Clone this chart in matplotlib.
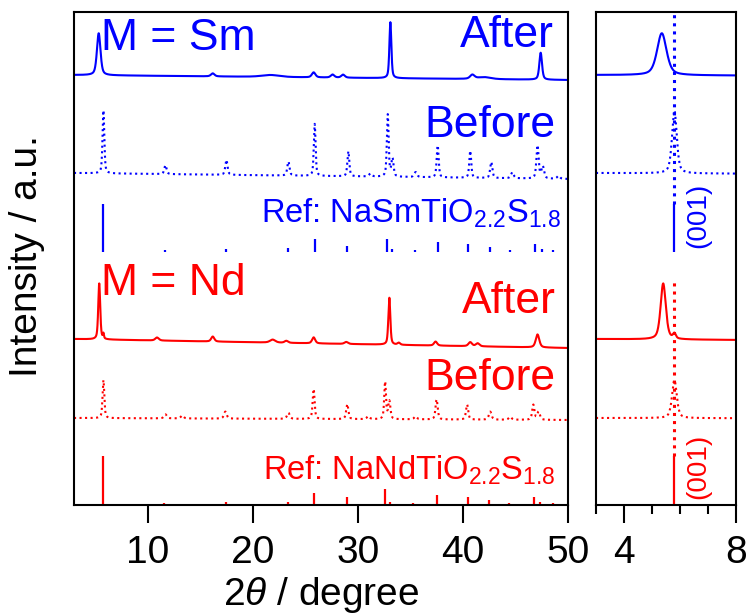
import numpy as np
import matplotlib
matplotlib.use("Agg")
import matplotlib.pyplot as plt
from matplotlib.ticker import MultipleLocator

plt.rcParams['font.family'] = ['Liberation Sans', 'DejaVu Sans']
plt.rcParams['mathtext.fontset'] = 'custom'
plt.rcParams['mathtext.rm'] = 'Liberation Sans'
plt.rcParams['mathtext.it'] = 'Liberation Sans:italic'

BLUE = '#0000ff'
RED = '#ff0000'

# peak lists: (2theta, intensity, fwhm)
sm_after = [(5.35, 42, 0.40), (16.2, 3, 0.4), (21.7, 2, 2.0), (25.8, 5, 0.4),
            (27.6, 3, 0.4), (28.6, 3, 0.4), (33.1, 56, 0.22), (40.9, 4, 0.5),
            (42.0, 2, 1.5), (47.4, 27, 0.30)]
sm_before = [(5.8, 63, 0.2), (11.7, 9, 0.25), (17.5, 15, 0.25), (23.4, 14, 0.25),
             (25.9, 52, 0.2), (29.1, 25, 0.22), (31.2, 3, 0.3), (32.85, 62, 0.2),
             (33.3, 18, 0.25), (35.5, 5, 0.3), (37.6, 32, 0.22), (40.7, 27, 0.22),
             (42.7, 16, 0.25), (44.7, 6, 0.3), (47.1, 33, 0.25), (47.6, 12, 0.3),
             (49.1, 3, 0.3)]
sm_ref_pos = [5.8, 11.7, 17.5, 23.4, 25.9, 29.0, 32.8, 33.3, 35.4, 37.6,
              40.5, 42.6, 44.5, 46.9, 47.5, 48.6]
sm_ref_int = [48, 2, 3, 4, 13, 6, 13, 3, 2, 10, 8, 5, 2, 8, 3, 2]

nd_after = [(5.4, 56, 0.22), (5.8, 5, 0.12), (10.9, 3, 0.4), (16.2, 5, 0.35),
            (21.9, 3, 0.6), (23.2, 2, 0.4), (25.8, 6, 0.35), (28.9, 2, 0.4),
            (33.0, 47, 0.22), (33.9, 2, 0.3), (37.4, 4, 0.35), (40.7, 4, 0.4),
            (41.4, 3, 0.4), (47.1, 13, 0.4)]
nd_before = [(5.8, 38, 0.2), (11.7, 4, 0.3), (13.3, 3, 0.3), (17.4, 7, 0.3),
             (23.4, 6, 0.3), (25.8, 30, 0.22), (29.0, 15, 0.25), (31.0, 3, 0.3),
             (32.6, 37, 0.2), (33.0, 18, 0.25), (35.5, 3, 0.3), (37.5, 20, 0.25),
             (40.4, 15, 0.25), (42.6, 8, 0.3), (44.5, 3, 0.3), (46.7, 15, 0.25),
             (47.2, 8, 0.3)]
nd_ref_pos = [5.8, 11.6, 17.5, 23.4, 25.8, 29.0, 32.6, 33.1, 35.3, 37.5,
              40.5, 42.5, 44.4, 46.8, 47.3, 48.6]
nd_ref_int = [49, 2, 3, 3, 12, 8, 16, 3, 2, 10, 8, 5, 2, 8, 3, 2]

x = np.arange(3.0, 50.0001, 0.005)


def pattern(peaks, bg_left, bg_right):
    # pseudo-Voigt peaks on a straight background
    y = np.linspace(bg_left, bg_right, x.size)
    for pos, h, w in peaks:
        d = (x - pos) / w
        y = y + h * (0.5 * np.exp(-4 * np.log(2) * d**2) + 0.5 / (1 + 4 * d**2))
    return y


curves = [
    (pattern(sm_after, 430, 425), BLUE, '-'),
    (pattern(sm_before, 332, 326), BLUE, ':'),
    (pattern(nd_after, 166, 157), RED, '-'),
    (pattern(nd_before, 87, 85), RED, ':'),
]
sm_base, nd_base = 253, 0

fig = plt.figure(figsize=(7.47, 6.13), dpi=100)
ax = fig.add_axes([74 / 747, 108 / 613, 494 / 747, 493 / 613])
ax2 = fig.add_axes([596 / 747, 108 / 613, 140 / 747, 493 / 613])

for a in (ax, ax2):
    for y, c, ls in curves:
        a.plot(x, y, color=c, ls=ls, lw=1.5)
    a.vlines(sm_ref_pos, sm_base, sm_base + np.array(sm_ref_int), color=BLUE, lw=1.6)
    a.vlines(nd_ref_pos, nd_base, nd_base + np.array(nd_ref_int), color=RED, lw=1.6)
    a.set_ylim(0, 493)
    a.set_yticks([])
    for s in a.spines.values():
        s.set_linewidth(1.5)
    a.tick_params(axis='x', which='major', direction='out', length=13, width=1.5,
                  labelsize=28, pad=8.5)
    a.tick_params(axis='x', which='minor', direction='out', length=6.5, width=1.5)

ax.set_xlim(3, 50)
ax.xaxis.set_major_locator(MultipleLocator(10))
ax2.set_xlim(3, 8)
ax2.xaxis.set_major_locator(MultipleLocator(4))
ax2.xaxis.set_minor_locator(MultipleLocator(1))

# (001) guide lines in the zoomed panel
p001 = sm_ref_pos[0]
ax2.plot([p001, p001], [sm_base + sm_ref_int[0], 493], color=BLUE, ls=':', lw=2.2)
ax2.plot([p001, p001], [nd_base + nd_ref_int[0], 227], color=RED, ls=':', lw=2.2)
ax2.text(6.65, 290, '(001)', color=BLUE, fontsize=20, rotation=90, ha='center', va='center')
ax2.text(6.65, 39, '(001)', color=RED, fontsize=20, rotation=90, ha='center', va='center')

big = 32
ref_size = 23.5
ax.text(5.6, 455, 'M = Sm', color=BLUE, fontsize=big, va='baseline')
ax.text(48.6, 458, 'After', color=BLUE, fontsize=big, ha='right', va='baseline')
ax.text(48.8, 368, 'Before', color=BLUE, fontsize=big, ha='right', va='baseline')
ax.text(49.3, 282, r'Ref: NaSmTiO$_\mathregular{2.2}$S$_\mathregular{1.8}$', color=BLUE,
        fontsize=ref_size, ha='right', va='baseline')
ax.text(5.6, 210, 'M = Nd', color=RED, fontsize=big, va='baseline')
ax.text(48.8, 192, 'After', color=RED, fontsize=big, ha='right', va='baseline')
ax.text(48.8, 115, 'Before', color=RED, fontsize=big, ha='right', va='baseline')
ax.text(48.8, 25, r'Ref: NaNdTiO$_\mathregular{2.2}$S$_\mathregular{1.8}$', color=RED,
        fontsize=ref_size, ha='right', va='baseline')

fig.text(321 / 747, 1 - 605 / 613, r'2$\it{\theta}$ / degree', fontsize=28,
         ha='center', va='baseline')
fig.text(27 / 747, 1 - 256 / 613, 'Intensity / a.u.', fontsize=28, rotation=90,
         ha='center', va='center')

fig.savefig('out.png', dpi=100)
